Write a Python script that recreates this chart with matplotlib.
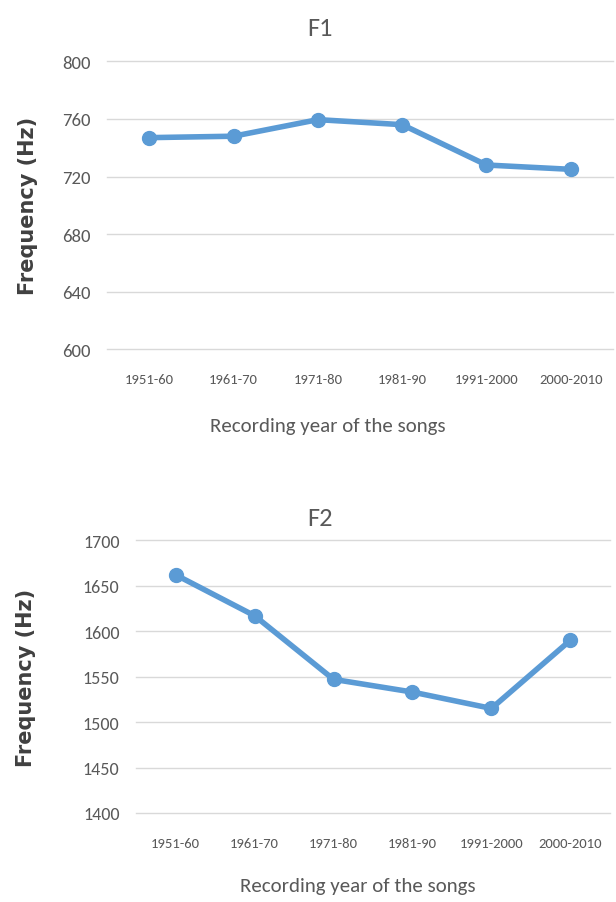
import matplotlib
matplotlib.use('Agg')
import matplotlib.pyplot as plt
from matplotlib import font_manager as fm

# 数据
periods = ['1951-60', '1961-70', '1971-80', '1981-90', '1991-2000', '2000-2010']
f1_values = [747, 748, 759.5, 756, 728, 725]
f2_values = [1662, 1617, 1547, 1533, 1515, 1590]
f1_ticks = [600, 640, 680, 720, 760, 800]
f2_ticks = [1400, 1450, 1500, 1550, 1600, 1650, 1700]

# Calibri 风格的窄字体
names = {f.name for f in fm.fontManager.ttflist}
narrow = 'DejaVu Sans'
for cand in ['Carlito', 'Open Sans Condensed', 'Roboto Condensed', 'Asap Condensed',
             'Barlow Semi Condensed']:
    if cand in names:
        narrow = cand
        break

LINE = '#5B9BD5'
TXT = '#595959'
GRID = '#D9D9D9'

fig = plt.figure(figsize=(6.16, 9.03), dpi=100)
fig.patch.set_facecolor('white')


def draw(rect, values, ticks, title, title_y, xlab_x, xlab_y, ylab_x, ytick_fs):
    ax = fig.add_axes(rect)
    x = range(len(periods))
    ax.plot(x, values, color=LINE, lw=4, marker='o', ms=10, solid_capstyle='round')
    ax.set_xlim(-0.5, len(periods) - 0.5)
    ax.set_ylim(ticks[0], ticks[-1])
    ax.set_yticks(ticks)
    ax.set_yticklabels([str(t) for t in ticks], family=narrow, fontsize=ytick_fs, color=TXT)
    ax.set_xticks(list(x))
    ax.set_xticklabels(periods, family=narrow, fontsize=10.5, color=TXT)
    ax.tick_params(length=0, pad=12)
    ax.tick_params(axis='x', pad=17)
    ax.grid(axis='y', color=GRID, lw=1)
    for gl in ax.get_ygridlines():
        gl.set_clip_on(False)
    ax.set_axisbelow(True)
    for s in ax.spines.values():
        s.set_visible(False)
    fig.text(0.52, title_y, title, ha='center', va='center', family=narrow,
             fontsize=19, color=TXT)
    fig.text(xlab_x, xlab_y, 'Recording year of the songs',
             ha='center', va='center', family=narrow, fontsize=15, color=TXT)
    fig.text(ylab_x, rect[1] + rect[3] / 2, 'Frequency (Hz)', rotation=90,
             ha='center', va='center', fontsize=15, fontweight='bold', color='#404040')
    return ax


draw([0.174, 0.612, 0.821, 0.319], f1_values, f1_ticks, 'F1', 1 - 28 / 903,
     328 / 616, 1 - 427 / 903, 0.045, 13.5)
draw([0.221, 0.0986, 0.769, 0.302], f2_values, f2_ticks, 'F2', 1 - 518 / 903,
     358 / 616, 1 - 887 / 903, 0.042, 13)

plt.savefig('out.png', dpi=100, facecolor='white')
